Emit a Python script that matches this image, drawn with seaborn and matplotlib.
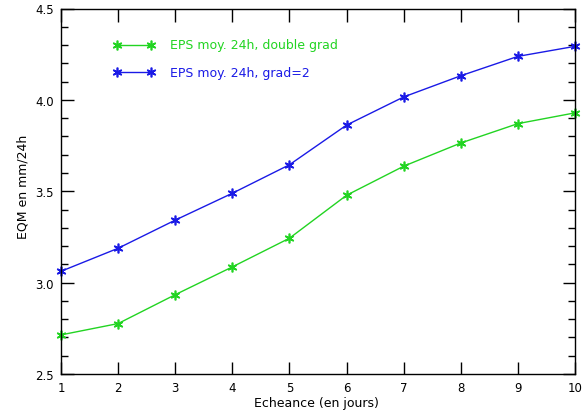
import numpy as np
import pandas as pd
import matplotlib
matplotlib.use("Agg")
import matplotlib.pyplot as plt
import seaborn as sns
from matplotlib.ticker import MultipleLocator, FormatStrFormatter

days = [1, 2, 3, 4, 5, 6, 7, 8, 9, 10]
double_grad = [2.714, 2.776, 2.934, 3.086, 3.243, 3.478, 3.637, 3.764, 3.870, 3.929]
grad2 = [3.062, 3.188, 3.342, 3.489, 3.645, 3.862, 4.016, 4.132, 4.238, 4.293]
labels = ["EPS moy. 24h, double grad", "EPS moy. 24h, grad=2"]
colors = ["#22d422", "#1a1ae6"]

df = pd.DataFrame({
    "day": days * 2,
    "val": double_grad + grad2,
    "serie": [labels[0]] * len(days) + [labels[1]] * len(days),
})

sns.set_style("ticks")
plt.rcParams['font.family'] = ['DejaVu Sans']

fig = plt.figure(figsize=(5.88, 4.14), dpi=100)
ax = fig.add_axes([61/588, 39/414, (575-61)/588, (375-9.5)/414])

sns.lineplot(data=df, x="day", y="val", hue="serie", palette=colors,
             marker=(6, 2, 0), markersize=7, markeredgewidth=1.2,
             linewidth=1.0, ax=ax, legend=False)
for ln in ax.lines:
    ln.set_markeredgecolor(ln.get_color())
    ln.set_markerfacecolor(ln.get_color())
    ln.set_clip_on(False)

ax.set_xlim(1, 10)
ax.set_ylim(2.5, 4.5)
ax.xaxis.set_major_locator(MultipleLocator(1))
ax.yaxis.set_major_locator(MultipleLocator(0.5))
ax.yaxis.set_minor_locator(MultipleLocator(0.1))
ax.yaxis.set_major_formatter(FormatStrFormatter('%.1f'))
ax.tick_params(axis='both', which='major', direction='in', length=9, width=1,
               top=True, right=True, labelsize=8.5, color='black',
               labelcolor='black')
ax.tick_params(axis='y', which='minor', direction='in', length=5, width=1,
               right=True, left=True, color='black')
ax.tick_params(axis='x', which='major', pad=5)
ax.tick_params(axis='y', which='major', pad=5)
for s in ax.spines.values():
    s.set_linewidth(1.0)
    s.set_color('black')

ax.set_xlabel("Echeance (en jours)", fontsize=9, color='black')
ax.set_ylabel("EQM en mm/24h", fontsize=9, color='black')
ax.xaxis.label.set_va('center')
ax.yaxis.label.set_va('center')
ax.xaxis.set_label_coords(0.497, -0.079)
ax.yaxis.set_label_coords(-0.073, 0.515)

for i, (lab, col) in enumerate(zip(labels, colors)):
    y = 1 - (46 - 9.5 + i * 27) / (375 - 9.5)
    x0 = (117 - 61) / (575 - 61)
    x1 = (151 - 61) / (575 - 61)
    ax.plot([x0, x1], [y, y], transform=ax.transAxes, color=col, lw=1.0,
            marker=(6, 2, 0), markersize=7, markeredgewidth=1.2)
    ax.text((170 - 61) / (575 - 61), y, lab, transform=ax.transAxes,
            color=col, fontsize=9, va='center', ha='left')

fig.savefig("out.png", dpi=100)
